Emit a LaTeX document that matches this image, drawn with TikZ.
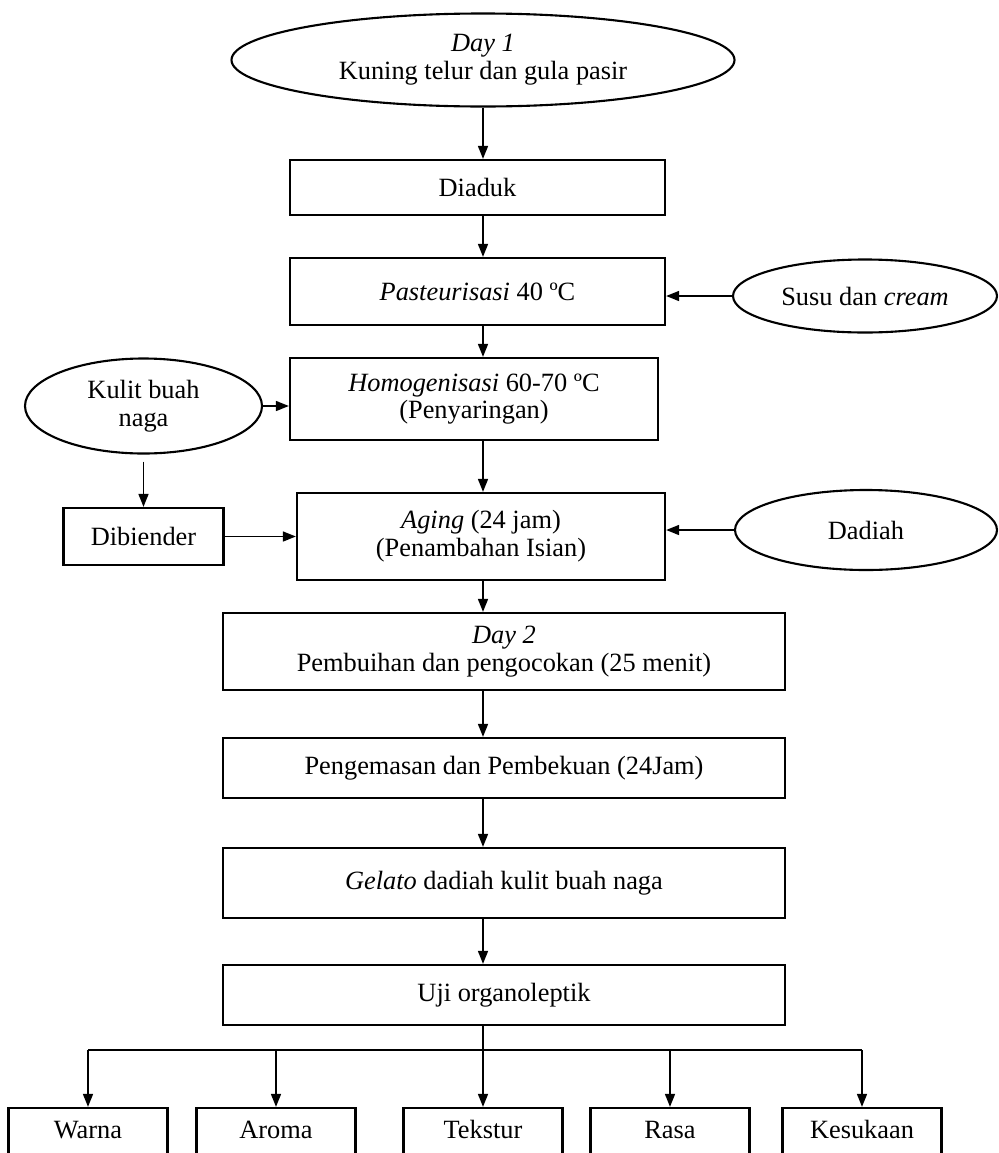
\documentclass[tikz,border=0pt]{standalone}
\usepackage{fontspec}
\setmainfont{Liberation Serif}
\usetikzlibrary{shapes.geometric,arrows.meta}
\begin{document}
\begin{tikzpicture}[font=\fontsize{15}{15.8}\selectfont,stepbox/.style={shape=rectangle,draw=black,line width=1.3pt,align=center,inner sep=0pt},stepW/.style={stepbox,minimum width=11.24cm},input/.style={shape=ellipse,draw=black,line width=1.2pt,align=center,inner sep=0pt},test/.style={stepbox,minimum width=3.18cm,minimum height=1cm,text height=1.7ex,text depth=0.3ex},arr/.style={-{Triangle[length=2.6mm,width=2mm]},line width=0.9pt}]
\def\sx{9.66};
\def\bus{-21.0};

\clip (0,0) rectangle (19.96,-23.06);

\node[input,minimum width=10.06cm,minimum height=1.86cm] (start) at (\sx,-1.2) {\textit{Day 1}\\Kuning telur dan gula pasir};

\node[stepbox,minimum width=7.5cm,minimum height=1.1cm] (aduk) at (9.55,-3.75) {Diaduk};
\draw[arr] (start.south) -- (start.south |- aduk.north);

\node[stepbox,minimum width=7.5cm,minimum height=1.34cm] (pasteur) at (9.55,-5.83) {\textit{Pasteurisasi} 40 ºC};
\draw[arr] (start.south |- aduk.south) -- (start.south |- pasteur.north);
\node[input,minimum width=5.28cm,minimum height=1.46cm] (susu) at (17.3,-5.92) {Susu dan \textit{cream}};
\draw[arr] (susu.west) -- (susu.west -| pasteur.east);

\node[stepbox,minimum width=7.36cm,minimum height=1.64cm] (homo) at (9.48,-7.98) {\textit{Homogenisasi} 60-70 ºC\\(Penyaringan)};
\draw[arr] (start.south |- pasteur.south) -- (start.south |- homo.north);
\node[input,minimum width=4.74cm,minimum height=1.9cm] (kulit) at (2.87,-8.12) {Kulit buah\\naga};
\draw[arr] (kulit.east) -- (kulit.east -| homo.west);

\node[stepbox,minimum width=3.2cm,minimum height=1.14cm] (blender) at (2.87,-10.73) {Dibiender};
\draw[arr] (kulit.south) ++(0,-0.14) -- (kulit.south |- blender.north);

\node[stepbox,minimum width=7.36cm,minimum height=1.74cm] (aging) at (9.62,-10.73) {\textit{Aging} (24 jam)\\(Penambahan Isian)};
\draw[arr] (start.south |- homo.south) -- (start.south |- aging.north);
\draw[arr] (blender.east) -- (blender.east -| aging.west);
\node[input,minimum width=5.24cm,minimum height=1.6cm] (dadiah) at (17.32,-10.6) {Dadiah};
\draw[arr] (dadiah.west) -- (dadiah.west -| aging.east);

\node[stepW,minimum height=1.54cm] (kocok) at (10.08,-13.03) {\textit{Day 2}\\Pembuihan dan pengocokan (25 menit)};
\draw[arr] (start.south |- aging.south) -- (start.south |- kocok.north);

\node[stepW,minimum height=1.2cm] (kemas) at (10.08,-15.36) {Pengemasan dan Pembekuan (24Jam)};
\draw[arr] (start.south |- kocok.south) -- (start.south |- kemas.north);

\node[stepW,minimum height=1.4cm] (gelato) at (10.08,-17.66) {\textit{Gelato} dadiah kulit buah naga};
\draw[arr] (start.south |- kemas.south) -- (start.south |- gelato.north);

\node[stepW,minimum height=1.2cm] (uji) at (10.08,-19.9) {Uji organoleptik};
\draw[arr] (start.south |- gelato.south) -- (start.south |- uji.north);

\node[test] (warna) at (1.76,-22.66) {Warna};
\node[test] (aroma) at (5.52,-22.66) {Aroma};
\node[test] (tekstur) at (\sx,-22.66) {Tekstur};
\node[test] (rasa) at (13.4,-22.66) {Rasa};
\node[test] (suka) at (17.24,-22.66) {Kesukaan};

\coordinate (hub) at (\sx,\bus);
\draw[line width=0.9pt] (start.south |- uji.south) -- (hub);
\draw[line width=0.9pt] (warna.north |- hub) -- (suka.north |- hub);
\foreach \t in {warna,aroma,tekstur,rasa,suka}
  \draw[arr] (\t.north |- hub) -- (\t.north);
\end{tikzpicture}
\end{document}
